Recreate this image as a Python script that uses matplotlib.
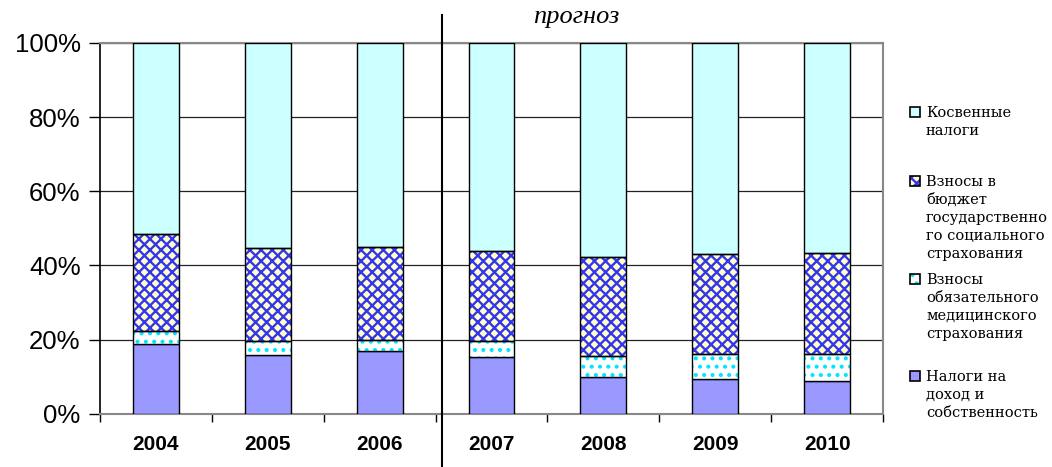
import numpy as np
import matplotlib
matplotlib.use('Agg')
import matplotlib.pyplot as plt
from matplotlib.patches import Rectangle

# доли налоговых поступлений, %
years = ['2004', '2005', '2006', '2007', '2008', '2009', '2010']
income = [18.8, 15.9, 16.8, 15.2, 10.0, 9.3, 8.8]        # налоги на доход и собственность
medical = [3.4, 3.8, 3.2, 4.5, 5.7, 6.8, 7.3]            # взносы ОМС
social = [26.3, 25.0, 25.1, 24.3, 26.5, 27.1, 27.3]      # взносы в бюджет соцстраха
indirect = [51.5, 55.3, 54.9, 56.0, 57.8, 56.8, 56.6]    # косвенные налоги

labels = ['Косвенные\nналоги',
          'Взносы в\nбюджет\nгосударственно\nго социального\nстрахования',
          'Взносы\nобязательного\nмедицинского\nстрахования',
          'Налоги на\nдоход и\nсобственность']

W, H = 1052, 467
fig = plt.figure(figsize=(W / 100, H / 100), dpi=100)
ax = fig.add_axes([100 / W, 1 - 413.7 / H, 783 / W, 370.7 / H])
plt.rcParams['hatch.linewidth'] = 1.7

x = np.arange(len(years))
bw = 0.41
inc = np.array(income)
med = np.array(medical)
soc = np.array(social)
ind = np.array(indirect)

# нижний сегмент
ax.bar(x, inc, bw, color='#9999FF', edgecolor='black', linewidth=1, zorder=3)
# ОМС: белый фон с голубыми штрихами
ax.bar(x, med, bw, bottom=inc, color='white', edgecolor='#00E5FF', hatch='..',
       linewidth=0, zorder=3)
ax.bar(x, med, bw, bottom=inc, fill=False, edgecolor='black', linewidth=1, zorder=4)
# соцстрах: жёлтый фон с синим узором
ax.bar(x, soc, bw, bottom=inc + med, color='#FFFFCC', edgecolor='#3535EE', hatch='xxx',
       linewidth=0, zorder=3)
ax.bar(x, soc, bw, bottom=inc + med, fill=False, edgecolor='black', linewidth=1, zorder=4)
# косвенные налоги
ax.bar(x, ind, bw, bottom=inc + med + soc, color='#CCFFFF', edgecolor='black',
       linewidth=1, zorder=3)

ax.set_xlim(-0.5, len(years) - 0.5)
ax.set_ylim(0, 100)
ax.set_yticks(np.arange(0, 101, 20))
ax.set_yticklabels([f'{v}%' for v in range(0, 101, 20)], fontsize=18.5,
                   family='Liberation Sans')
ax.yaxis.grid(True, color='#222222', linewidth=0.9, zorder=0)
ax.tick_params(axis='y', length=8, width=1, pad=6)

ax.set_xticks(x)
ax.set_xticklabels(years, fontsize=15, fontweight='bold', family='Liberation Sans')
ax.tick_params(axis='x', length=0, pad=15)
# засечки между категориями
ax.set_xticks(np.arange(-0.5, len(years) - 0.4, 1), minor=True)
ax.tick_params(axis='x', which='minor', length=6, width=1, color='black')

for s in ['top', 'right', 'bottom']:
    ax.spines[s].set_color('#888888')
    ax.spines[s].set_linewidth(1.5)
ax.spines['left'].set_color('black')
ax.spines['left'].set_linewidth(1.2)

# граница прогнозного периода
ax.plot([2.56, 2.56], [-0.145, 1.075], color='black', linewidth=1.5,
        transform=ax.get_xaxis_transform(), clip_on=False, zorder=5)
ax.text(3.76, 1.07, 'прогноз', transform=ax.get_xaxis_transform(),
        fontsize=19, style='italic', family='Liberation Serif',
        ha='center', va='center')

# легенда
leg_colors = ['#CCFFFF', '#FFFFCC', 'white', '#9999FF']
leg_hatch = [None, 'xxx', '..', None]
leg_hcol = ['black', '#3535EE', '#00E5FF', 'black']
leg_y = [112, 181, 279, 376]
for lab, c, h, hc, py in zip(labels, leg_colors, leg_hatch, leg_hcol, leg_y):
    sq = Rectangle((910 / W, 1 - (py + 5) / H), 10 / W, 10 / H, transform=fig.transFigure,
                   facecolor=c, edgecolor=hc, hatch=h, linewidth=0 if h else 1.2)
    fig.add_artist(sq)
    if h:
        fig.add_artist(Rectangle((910 / W, 1 - (py + 5) / H), 10 / W, 10 / H,
                                 transform=fig.transFigure, fill=False,
                                 edgecolor='black', linewidth=1.2))
    fig.text(926 / W, 1 - (py - 6) / H, lab, fontsize=10.5, family='DejaVu Serif',
             ha='left', va='top', linespacing=1.35)

fig.savefig('out.png', dpi=100)
